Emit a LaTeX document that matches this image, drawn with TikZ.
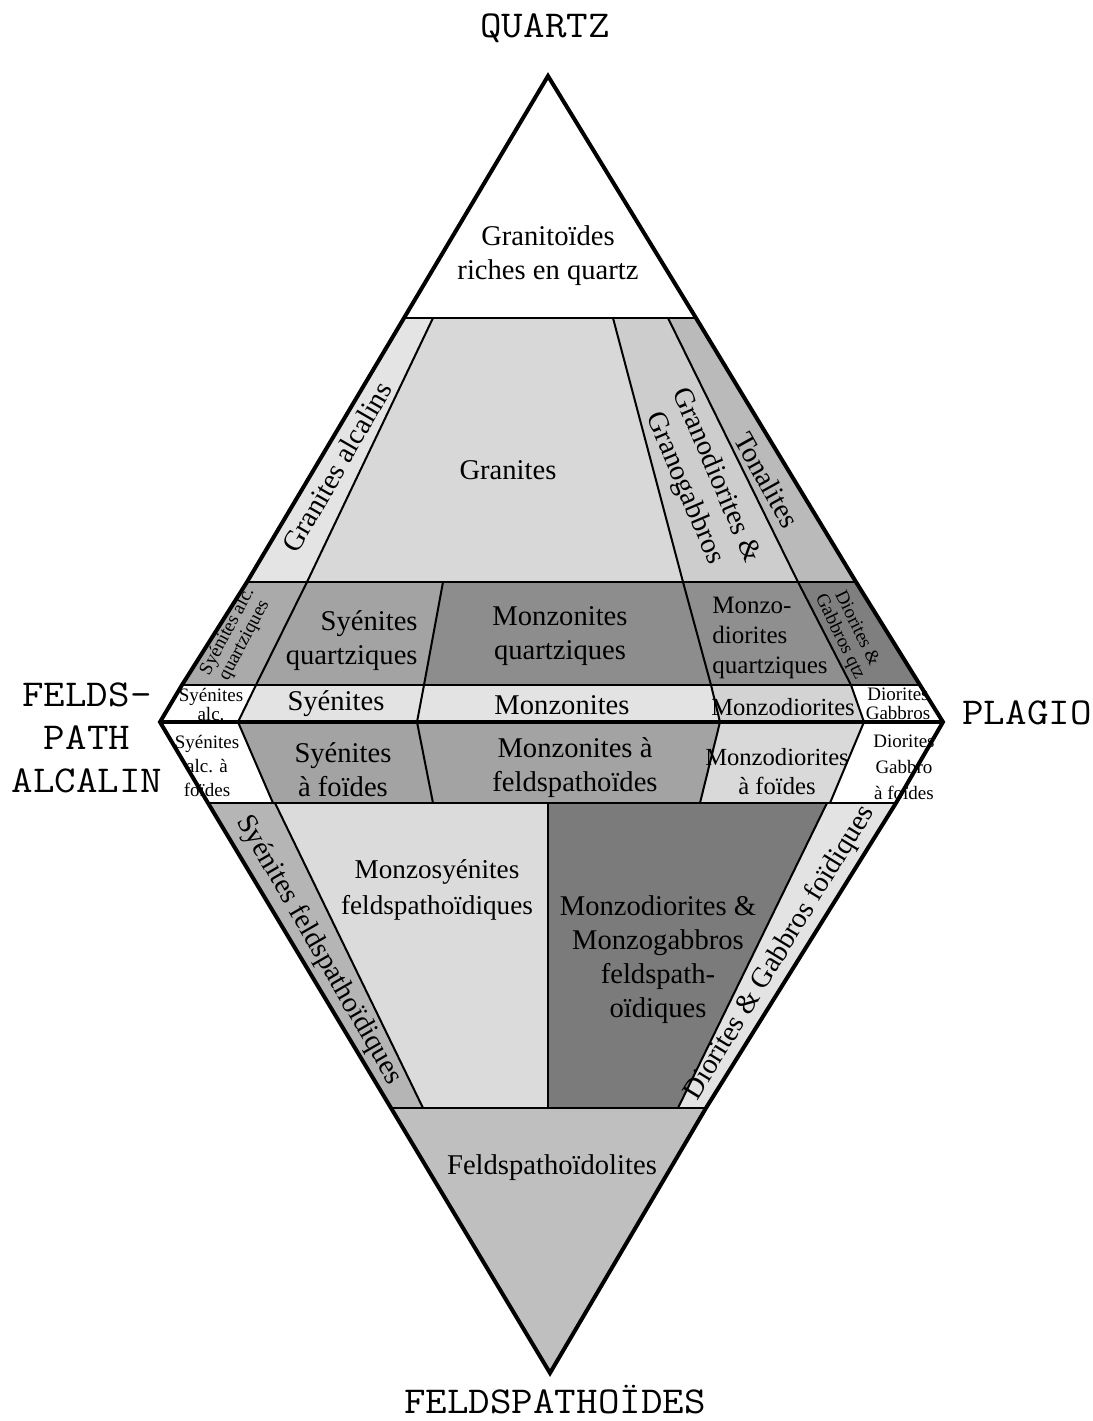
\documentclass[tikz,border=0pt]{standalone}
\usepackage{fontspec}
\setmainfont{Liberation Serif}
\definecolor{cGalc}{HTML}{E4E4E4}
\definecolor{cGran}{HTML}{D8D8D8}
\definecolor{cGrd}{HTML}{CDCDCD}
\definecolor{cTon}{HTML}{BABABA}
\definecolor{cSaq}{HTML}{AAAAAA}
\definecolor{cSq}{HTML}{A3A3A3}
\definecolor{cMq}{HTML}{8D8D8D}
\definecolor{cMdq}{HTML}{8F8F8F}
\definecolor{cDgq}{HTML}{7F7F7F}
\definecolor{cSy}{HTML}{E3E3E3}
\definecolor{cMz}{HTML}{E3E3E3}
\definecolor{cMzd}{HTML}{D3D3D3}
\definecolor{cSf}{HTML}{A3A3A3}
\definecolor{cMf}{HTML}{A3A3A3}
\definecolor{cMdf}{HTML}{D9D9D9}
\definecolor{cSfe}{HTML}{B5B5B5}
\definecolor{cMsf}{HTML}{DBDBDB}
\definecolor{cMmf}{HTML}{7B7B7B}
\definecolor{cDgfo}{HTML}{E3E3E3}
\definecolor{cFdl}{HTML}{BFBFBF}
\begin{document}
\begin{tikzpicture}[x=0.5pt,y=-0.5pt,
  lab/.style={font=\fontsize{14.3}{17}\selectfont, align=center, inner sep=0pt},
  midlab/.style={font=\fontsize{12.3}{14.5}\selectfont, align=center, inner sep=0pt},
  small/.style={font=\fontsize{9.5}{9.5}\selectfont, align=center, inner sep=0pt},
  corner/.style={font=\ttfamily\fontsize{19}{21.5}\selectfont, align=center, inner sep=0pt, xscale=1.1},
  outline/.style={line width=2pt, line join=miter},
  hline/.style={line width=1.4pt},
  dline/.style={line width=1pt}]
\useasboundingbox (0,0) rectangle (1093,1421);
% main vertices
\coordinate (Q) at (548,76);
\coordinate (P) at (943,722);
\coordinate (A) at (160,722);
\coordinate (F) at (550,1373);
\coordinate (L60) at (404,318); \coordinate (R60) at (696,318);
\coordinate (L20) at (247,582); \coordinate (R20) at (856,582);
\coordinate (L5) at (182,685);  \coordinate (R5) at (920,685);
\coordinate (L10) at (208,803); \coordinate (R10) at (896,803);
\coordinate (Lf) at (391,1108); \coordinate (Rf) at (706,1108);
% dividers
\coordinate (a60) at (433,318); \coordinate (a20) at (307,582); \coordinate (a5) at (256,685); \coordinate (a0) at (238,722); \coordinate (a10) at (273,803);
\coordinate (b20) at (443,582); \coordinate (b5) at (424,685); \coordinate (b0) at (417,722); \coordinate (b10) at (433,803);
\coordinate (c60) at (613,318); \coordinate (c20) at (683,582); \coordinate (c5) at (711,685); \coordinate (c0) at (720,722); \coordinate (c10) at (700,803);
\coordinate (d60) at (668,318); \coordinate (d20) at (798,582); \coordinate (d5) at (851,685); \coordinate (d0) at (864,722); \coordinate (d10) at (830,803);
\coordinate (e10) at (275,803); \coordinate (ef) at (423,1108);
\coordinate (g10) at (548,803); \coordinate (gf) at (548,1108);
\coordinate (h10) at (827,803); \coordinate (hf) at (678,1108);

% fills
\fill[white] (Q)--(R60)--(L60)--cycle;
\fill[cGalc] (L60)--(a60)--(a20)--(L20)--cycle;
\fill[cGran] (a60)--(c60)--(c20)--(a20)--cycle;
\fill[cGrd] (c60)--(d60)--(d20)--(c20)--cycle;
\fill[cTon] (d60)--(R60)--(R20)--(d20)--cycle;
\fill[cSaq] (L20)--(a20)--(a5)--(L5)--cycle;
\fill[cSq] (a20)--(b20)--(b5)--(a5)--cycle;
\fill[cMq] (b20)--(c20)--(c5)--(b5)--cycle;
\fill[cMdq] (c20)--(d20)--(d5)--(c5)--cycle;
\fill[cDgq] (d20)--(R20)--(R5)--(d5)--cycle;
\fill[white] (L5)--(a5)--(a0)--(A)--cycle;
\fill[cSy] (a5)--(b5)--(b0)--(a0)--cycle;
\fill[cMz] (b5)--(c5)--(c0)--(b0)--cycle;
\fill[cMzd] (c5)--(d5)--(d0)--(c0)--cycle;
\fill[white] (d5)--(R5)--(P)--(d0)--cycle;
\fill[white] (A)--(a0)--(a10)--(L10)--cycle;
\fill[cSf] (a0)--(b0)--(b10)--(a10)--cycle;
\fill[cMf] (b0)--(c0)--(c10)--(b10)--cycle;
\fill[cMdf] (c0)--(d0)--(d10)--(c10)--cycle;
\fill[white] (d0)--(P)--(R10)--(d10)--cycle;
\fill[cSfe] (L10)--(e10)--(ef)--(Lf)--cycle;
\fill[cMsf] (e10)--(g10)--(gf)--(ef)--cycle;
\fill[cMmf] (g10)--(h10)--(hf)--(gf)--cycle;
\fill[cDgfo] (h10)--(R10)--(Rf)--(hf)--cycle;
\fill[cFdl] (Lf)--(Rf)--(F)--cycle;

% dividers
\draw[dline] (a60)--(a20)--(a5)--(a0)--(a10);
\draw[dline] (b20)--(b5)--(b0)--(b10);
\draw[dline] (c60)--(c20)--(c5)--(c0)--(c10);
\draw[dline] (d60)--(d20)--(d5)--(d0)--(d10);
\draw[dline] (e10)--(ef);
\draw[line width=1.4pt] (g10)--(gf);
\draw[dline] (h10)--(hf);
% horizontal lines
\draw[hline] (L60)--(R60);
\draw[hline] (L20)--(R20);
\draw[hline] (L5)--(R5);
\draw[line width=2pt] (A)--(P);
\draw[hline] (L10)--(R10);
\draw[hline] (Lf)--(Rf);
% outline
\draw[outline] (Q)--(R60)--(R20)--(R5)--(P)--(R10)--(Rf)--(F)--(Lf)--(L10)--(A)--(L5)--(L20)--(L60)--cycle;

% labels
\node[lab] (grq) at (548,256) {Granitoïdes\\riches en quartz};
\node[lab, rotate=60] (galc) at (337,467) {Granites alcalins};
\node[lab] (gran) at (508,470) {Granites};
\node[lab, rotate=-67] (grd) at (700,482) {Granodiorites \&\\Granogabbros};
\node[lab, rotate=-61] (ton) at (767,480) {Tonalites};
\node[small, rotate=62] (saq) at (236,636) {Syénites alc.\\quartziques};
\node[lab, align=right, anchor=east] (sq) at (418,641) {Syénites\\quartziques};
\node[lab] (mq) at (560,636) {Monzonites\\quartziques};
\node[font=\fontsize{12.5}{15}\selectfont, align=left, anchor=west, inner sep=0pt] (mdq) at (712,638) {Monzo-\\diorites\\quartziques};
\node[small, rotate=-64] (dgq) at (848,633) {Diorites \&\\Gabbros qtz};
\node[small] (sa) at (211,705) {Syénites\\alc.};
\node[lab] (sy) at (336,704) {Syénites};
\node[lab] (mz) at (562,705) {Monzonites};
\node[midlab] (mzd) at (783,707) {Monzodiorites};
\node[small] (dg) at (898,704) {Diorites\\Gabbros};
\node[font=\fontsize{9.5}{12}\selectfont, align=center, inner sep=0pt] (saf) at (207,766) {Syénites\\alc. à\\foïdes};
\node[lab] (sf) at (343,770) {Syénites\\à foïdes};
\node[lab] (mf) at (575,768) {Monzonites à\\feldspathoïdes};
\node[midlab] (mdf) at (777,772) {Monzodiorites\\à foïdes};
\node[font=\fontsize{9.5}{13}\selectfont, align=center, inner sep=0pt] (dgf) at (904,767) {Diorites\\Gabbro\\à foïdes};
\node[lab, rotate=-60] (sfe) at (319,950) {Syénites feldspathoïdiques};
\node[font=\fontsize{13.6}{18}\selectfont, align=center, inner sep=0pt] (msf) at (437,890) {Monzosyénites\\feldspathoïdiques};
\node[lab] (mmf) at (658,960) {Monzodiorites \&\\Monzogabbros\\feldspath-\\oïdiques};
\node[lab, rotate=58.5] (dgfo) at (780,953) {Diorites \& Gabbros foïdiques};
\node[lab] (fdl) at (552,1168) {Feldspathoïdolites};
% corner labels
\node[corner, anchor=base] (cq) at (545,37) {QUARTZ};
\node[corner] (ca) at (87,738) {FELDS-\\PATH\\ALCALIN};
\node[corner, anchor=base] (cp) at (1027,724) {PLAGIO};
\node[corner, anchor=base] (cf) at (555,1413) {FELDSPATHOÏDES};
\end{tikzpicture}
\end{document}
